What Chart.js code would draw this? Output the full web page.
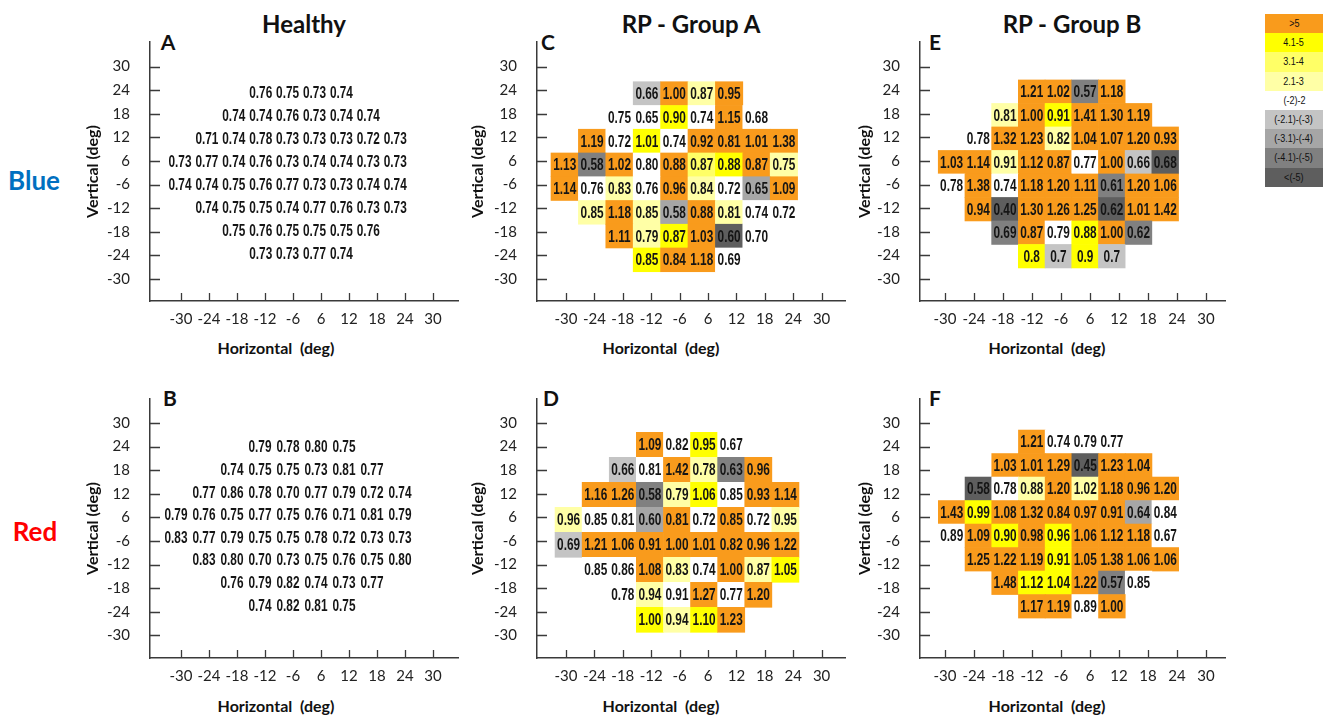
<!DOCTYPE html>
<html>
<head>
<meta charset="utf-8">
<title>Visual field panels</title>
<script src="https://cdn.jsdelivr.net/npm/chart.js@4.4.1/dist/chart.umd.min.js"></script>
<style>
  body { margin: 0; width: 1326px; height: 719px; background: #fff; position: relative; overflow: hidden; font-family: Lato, "Open Sans", sans-serif; color: #111; }
  canvas { position: absolute; }
  .lbl { position: absolute; transform: translate(-50%, -50%); white-space: pre; font-weight: bold; }
  .head { font-size: 24px; }
  .letter { font-size: 21px; }
  .side { font-size: 26px; }
  .xt { font-size: 16px; }
  #legend { position: absolute; left: 1265px; top: 14px; width: 58px; font: 11px "Liberation Sans", Arial, sans-serif; text-align: center; color: #111; }
  #legend div { height: 19.2px; line-height: 19.2px; }
  #legend span { display: inline-block; transform: scaleX(0.82); }
</style>
</head>
<body>
<div class="lbl head" style="left:304px;top:23px">Healthy</div>
<div class="lbl head" style="left:691px;top:23px">RP - Group A</div>
<div class="lbl head" style="left:1072px;top:23px">RP - Group B</div>
<div class="lbl side" style="left:34px;top:180px;color:#0070C0">Blue</div>
<div class="lbl side" style="left:35px;top:531px;color:#FF0000">Red</div>
<div class="lbl letter" style="left:168px;top:41px">A</div>
<div class="lbl letter" style="left:170px;top:397px">B</div>
<div class="lbl letter" style="left:548px;top:41px">C</div>
<div class="lbl letter" style="left:551px;top:397px">D</div>
<div class="lbl letter" style="left:935px;top:41px">E</div>
<div class="lbl letter" style="left:935px;top:397px">F</div>
<div class="lbl xt" style="left:276px;top:347px">Horizontal  (deg)</div>
<div class="lbl xt" style="left:661px;top:347px">Horizontal  (deg)</div>
<div class="lbl xt" style="left:1047px;top:347px">Horizontal  (deg)</div>
<div class="lbl xt" style="left:276px;top:705px">Horizontal  (deg)</div>
<div class="lbl xt" style="left:661px;top:705px">Horizontal  (deg)</div>
<div class="lbl xt" style="left:1047px;top:705px">Horizontal  (deg)</div>
<div id="legend"></div>
<canvas id="pA"></canvas>
<canvas id="pB"></canvas>
<canvas id="pC"></canvas>
<canvas id="pD"></canvas>
<canvas id="pE"></canvas>
<canvas id="pF"></canvas>
<script>
// axis tick labels (degrees)
const xLabels = ['-30', '-24', '-18', '-12', '-6', '6', '12', '18', '24', '30'];
const yLabels = ['30', '24', '18', '12', '6', '-6', '-12', '-18', '-24', '-30'];

// z-score bins: code letter -> legend label
const binCodes = ['O', 'Y', 'y', 'p', 'w', 'a', 'b', 'c', 'd'];
const binLabels = ['>5', '4.1-5', '3.1-4', '2.1-3', '(-2)-2', '(-2.1)-(-3)', '(-3.1)-(-4)', '(-4.1)-(-5)', '<(-5)'];
const binColors = ['#F99B1C', '#FFFF00', '#FFFF66', '#FFFFA6', '#FFFFFF', '#C4C4C4', '#A6A6A6', '#808080', '#5E5E5E'];

// cell values, rows from +24 down to -24, '.' = no test point
const healthyBlue = [
  '. . . 0.76 0.75 0.73 0.74 . .',
  '. . 0.74 0.74 0.76 0.73 0.74 0.74 .',
  '. 0.71 0.74 0.78 0.73 0.73 0.73 0.72 0.73',
  '0.73 0.77 0.74 0.76 0.73 0.74 0.74 0.73 0.73',
  '0.74 0.74 0.75 0.76 0.77 0.73 0.73 0.74 0.74',
  '. 0.74 0.75 0.75 0.74 0.77 0.76 0.73 0.73',
  '. . 0.75 0.76 0.75 0.75 0.75 0.76 .',
  '. . . 0.73 0.73 0.77 0.74 . .'
];
const healthyRed = [
  '. . . 0.79 0.78 0.80 0.75 . .',
  '. . 0.74 0.75 0.75 0.73 0.81 0.77 .',
  '. 0.77 0.86 0.78 0.70 0.77 0.79 0.72 0.74',
  '0.79 0.76 0.75 0.77 0.75 0.76 0.71 0.81 0.79',
  '0.83 0.77 0.79 0.75 0.75 0.78 0.72 0.73 0.73',
  '. 0.83 0.80 0.70 0.73 0.75 0.76 0.75 0.80',
  '. . 0.76 0.79 0.82 0.74 0.73 0.77 .',
  '. . . 0.74 0.82 0.81 0.75 . .'
];
const groupABlue = [
  '. . . 0.66 1.00 0.87 0.95 . .',
  '. . 0.75 0.65 0.90 0.74 1.15 0.68 .',
  '. 1.19 0.72 1.01 0.74 0.92 0.81 1.01 1.38',
  '1.13 0.58 1.02 0.80 0.88 0.87 0.88 0.87 0.75',
  '1.14 0.76 0.83 0.76 0.96 0.84 0.72 0.65 1.09',
  '. 0.85 1.18 0.85 0.58 0.88 0.81 0.74 0.72',
  '. . 1.11 0.79 0.87 1.03 0.60 0.70 .',
  '. . . 0.85 0.84 1.18 0.69 . .'
];
const groupABlueBins = [
  '. . . a O p O . .',
  '. . w w Y w O w .',
  '. O w Y w O O O O',
  'O c O w O y Y O p',
  'O w p w O p w b O',
  '. p O p b O p w w',
  '. . O p Y O d w .',
  '. . . Y O O w . .'
];
const groupARed = [
  '. . . 1.09 0.82 0.95 0.67 . .',
  '. . 0.66 0.81 1.42 0.78 0.63 0.96 .',
  '. 1.16 1.26 0.58 0.79 1.06 0.85 0.93 1.14',
  '0.96 0.85 0.81 0.60 0.81 0.72 0.85 0.72 0.95',
  '0.69 1.21 1.06 0.91 1.00 1.01 0.82 0.96 1.22',
  '. 0.85 0.86 1.08 0.83 0.74 1.00 0.87 1.05',
  '. . 0.78 0.94 0.91 1.27 0.77 1.20 .',
  '. . . 1.00 0.94 1.10 1.23 . .'
];
const groupARedBins = [
  '. . . O w Y w . .',
  '. . a w O p c O .',
  '. O O c p Y w O O',
  'p w w b O w O w p',
  'a O O O O O O O O',
  '. w w O p w O p Y',
  '. . w p w O w O .',
  '. . . Y p Y O . .'
];
const groupBBlue = [
  '. . . 1.21 1.02 0.57 1.18 . .',
  '. . 0.81 1.00 0.91 1.41 1.30 1.19 .',
  '. 0.78 1.32 1.23 0.82 1.04 1.07 1.20 0.93',
  '1.03 1.14 0.91 1.12 0.87 0.77 1.00 0.66 0.68',
  '0.78 1.38 0.74 1.18 1.20 1.11 0.61 1.20 1.06',
  '. 0.94 0.40 1.30 1.26 1.25 0.62 1.01 1.42',
  '. . 0.69 0.87 0.79 0.88 1.00 0.62 .',
  '. . . 0.8 0.7 0.9 0.7 . .'
];
const groupBBlueBins = [
  '. . . O O c O . .',
  '. . p O Y O O O .',
  '. w O O p O O O O',
  'O O p O O w O a d',
  'w O w O O O c O O',
  '. O d O O O d O O',
  '. . c O w Y O c .',
  '. . . Y a Y a . .'
];
const groupBRed = [
  '. . . 1.21 0.74 0.79 0.77 . .',
  '. . 1.03 1.01 1.29 0.45 1.23 1.04 .',
  '. 0.58 0.78 0.88 1.20 1.02 1.18 0.96 1.20',
  '1.43 0.99 1.08 1.32 0.84 0.97 0.91 0.64 0.84',
  '0.89 1.09 0.90 0.98 0.96 1.06 1.12 1.18 0.67',
  '. 1.25 1.22 1.19 0.91 1.05 1.38 1.06 1.06',
  '. . 1.48 1.12 1.04 1.22 0.57 0.85 .',
  '. . . 1.17 1.19 0.89 1.00 . .'
];
const groupBRedBins = [
  '. . . O w w w . .',
  '. . O O O d O O .',
  '. d w p O p O O O',
  'O Y O O O O O b w',
  'w O Y O Y O O O w',
  '. O O O Y O O O O',
  '. . O Y Y O c w .',
  '. . . O O w O . .'
];

// page layout (pixels)
const colGeom = [
  { axisX: 150, axisRight: 458, tick0X: 181, tickSpX: 28, titleX: 93 },
  { axisX: 537, axisRight: 845, tick0X: 566, tickSpX: 28.4, titleX: 478 },
  { axisX: 920, axisRight: 1225, tick0X: 945, tickSpX: 29, titleX: 865 }
];
const rowGeom = [
  { axisTop: 42, axisBottom: 301, tick0Y: 66.5, tickSpY: 23.6 },
  { axisTop: 399, axisBottom: 658, tick0Y: 423, tickSpY: 23.6 }
];

const CW = 400, CH = 345, YW = 88, PADTOP = 12;
const TEXT_W = 23; // width of a "0.00" label in the original

const cellText = {
  id: 'cellText',
  afterDatasetsDraw(chart) {
    const ctx = chart.ctx;
    const meta = chart.getDatasetMeta(0);
    const pts = chart.data.datasets[0].data;
    ctx.save();
    ctx.font = 'bold 16px "Liberation Sans", Arial, sans-serif';
    ctx.fillStyle = '#151515';
    ctx.textAlign = 'center';
    ctx.textBaseline = 'middle';
    const sx = Math.min(1, TEXT_W / ctx.measureText('0.00').width);
    meta.data.forEach((bar, i) => {
      ctx.save();
      ctx.translate(bar.x, (bar.y + bar.base) / 2 + 1);
      ctx.scale(sx, 1); // condensed look of the original
      ctx.fillText(pts[i].t, 0, 0);
      ctx.restore();
    });
    ctx.restore();
  }
};

const innerTicks = {
  id: 'innerTicks',
  afterDraw(chart) {
    const { ctx, chartArea: a, scales: { x, y } } = chart;
    ctx.save();
    ctx.strokeStyle = '#3a3a3a';
    ctx.lineWidth = 1.3;
    ctx.beginPath();
    x.ticks.forEach(t => {
      const px = Math.round(x.getPixelForValue(t.value)) + 0.5;
      ctx.moveTo(px, a.bottom);
      ctx.lineTo(px, a.bottom - 8);
    });
    y.ticks.forEach(t => {
      const py = Math.round(y.getPixelForValue(t.value)) + 0.5;
      ctx.moveTo(a.left, py);
      ctx.lineTo(a.left + 10, py);
    });
    ctx.stroke();
    ctx.restore();
  }
};

function noPad(s) {
  s.paddingTop = 0; s.paddingBottom = 0; s.paddingLeft = 0; s.paddingRight = 0;
}

function buildPanel(id, valueRows, binRows, cg, rg, grid) {
  const cells = [];
  valueRows.forEach((row, r) => {
    const bins = binRows ? binRows[r].split(' ') : null;
    row.split(' ').forEach((t, c) => {
      if (t === '.') return;
      const code = bins ? bins[c] : 'w';
      cells.push({ x: c, y: [r - 0.5, r + 0.5], t: t, bin: binCodes.indexOf(code) });
    });
  });

  const canvas = document.getElementById(id);
  const left = cg.axisX - YW, top = rg.axisTop - PADTOP;
  canvas.width = CW; canvas.height = CH;
  canvas.style.left = left + 'px';
  canvas.style.top = top + 'px';
  canvas.style.width = CW + 'px';
  canvas.style.height = CH + 'px';

  const xH = CH - (rg.axisBottom - top);
  const axisFont = { family: 'Lato', size: 15 };

  new Chart(canvas.getContext('2d'), {
    type: 'bar',
    data: {
      datasets: [{
        data: cells,
        xAxisID: 'xd',
        yAxisID: 'yd',
        backgroundColor: cells.map(c => binColors[c.bin]),
        borderWidth: 0,
        categoryPercentage: 1,
        barPercentage: 1
      }]
    },
    options: {
      responsive: false,
      animation: false,
      layout: { padding: { top: PADTOP, right: left + CW - cg.axisRight, left: 0, bottom: 0 } },
      plugins: { legend: { display: false }, tooltip: { enabled: false } },
      scales: {
        x: {
          type: 'linear',
          position: 'bottom',
          offset: false,
          min: (cg.axisX - cg.tick0X) / cg.tickSpX,
          max: (cg.axisRight - cg.tick0X) / cg.tickSpX,
          afterBuildTicks: s => { s.ticks = xLabels.map((_, i) => ({ value: i })); },
          afterFit: s => { s.height = xH; noPad(s); },
          grid: { display: false, drawTicks: false, offset: false },
          border: { color: '#3a3a3a', width: 1.5 },
          ticks: { autoSkip: false, maxRotation: 0, padding: 9, color: '#222', font: axisFont, callback: v => xLabels[v] }
        },
        y: {
          type: 'linear',
          position: 'left',
          reverse: true,
          min: (rg.axisTop - rg.tick0Y) / rg.tickSpY,
          max: (rg.axisBottom - rg.tick0Y) / rg.tickSpY,
          afterBuildTicks: s => { s.ticks = yLabels.map((_, i) => ({ value: i })); },
          afterFit: s => { s.width = YW; noPad(s); },
          grid: { display: false, drawTicks: false },
          border: { color: '#3a3a3a', width: 1.5 },
          ticks: { autoSkip: false, padding: 20, color: '#222', font: axisFont, callback: v => yLabels[v] },
          title: {
            display: true,
            text: 'Vertical (deg)',
            color: '#111',
            font: { family: 'Lato', size: 16, weight: 'bold' },
            padding: { top: cg.titleX - left - 9.6, bottom: 0 }
          }
        },
        xd: {
          type: 'linear', display: false, offset: false,
          min: (cg.axisX - grid.col0) / grid.colSp,
          max: (cg.axisRight - grid.col0) / grid.colSp
        },
        yd: {
          type: 'linear', display: false, reverse: true,
          min: (rg.axisTop - grid.row0) / grid.rowSp,
          max: (rg.axisBottom - grid.row0) / grid.rowSp
        }
      }
    },
    plugins: [cellText, innerTicks]
  });
}

buildPanel('pA', healthyBlue, null, colGeom[0], rowGeom[0], { col0: 180, colSp: 26.9, row0: 93, rowSp: 23 });
buildPanel('pB', healthyRed, null, colGeom[0], rowGeom[1], { col0: 176, colSp: 28, row0: 447, rowSp: 22.6 });
buildPanel('pC', groupABlue, groupABlueBins, colGeom[1], rowGeom[0], { col0: 564.7, colSp: 27.4, row0: 93.6, rowSp: 23.75 });
buildPanel('pD', groupARed, groupARedBins, colGeom[1], rowGeom[1], { col0: 568.6, colSp: 27.1, row0: 444.8, rowSp: 25 });
buildPanel('pE', groupBBlue, groupBBlueBins, colGeom[2], rowGeom[0], { col0: 951.6, colSp: 26.7, row0: 91.7, rowSp: 23.5 });
buildPanel('pF', groupBRed, groupBRedBins, colGeom[2], rowGeom[1], { col0: 951.7, colSp: 26.7, row0: 441.8, rowSp: 23.5 });

// colour key
const legendEl = document.getElementById('legend');
binLabels.forEach((lab, i) => {
  const d = document.createElement('div');
  const s = document.createElement('span');
  s.textContent = lab;
  d.appendChild(s);
  d.style.background = binColors[i];
  legendEl.appendChild(d);
});
</script>
</body>
</html>
